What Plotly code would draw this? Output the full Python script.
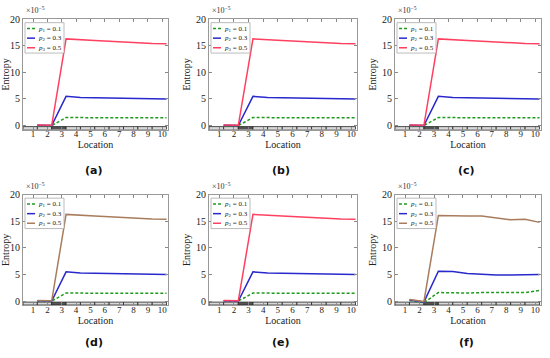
import plotly.graph_objects as go

# ---------------- data ----------------
location = [1.3, 2.3, 3.3, 4.3, 5.3, 6.3, 7.3, 8.3, 9.3, 10.3]
x_ticks = [1, 2, 3, 4, 5, 6, 7, 8, 9, 10]
y_ticks = [0, 5, 10, 15, 20]
series_names = ["<i>p</i><sub>1</sub> = 0.1", "<i>p</i><sub>2</sub> = 0.3", "<i>p</i><sub>3</sub> = 0.5"]
panel_labels = ["<b>(a)</b>", "<b>(b)</b>", "<b>(c)</b>", "<b>(d)</b>", "<b>(e)</b>", "<b>(f)</b>"]

p1_a = [0.0, 0.0, 1.5, 1.5, 1.5, 1.5, 1.5, 1.5, 1.45, 1.45]
p2_a = [0.05, 0.0, 5.5, 5.3, 5.25, 5.2, 5.15, 5.1, 5.05, 5.0]
p3_a = [0.1, 0.05, 16.3, 16.1, 16.0, 15.85, 15.7, 15.55, 15.45, 15.4]

p1_b = [0.0, 0.0, 1.5, 1.5, 1.5, 1.5, 1.5, 1.5, 1.45, 1.45]
p2_b = [0.05, 0.0, 5.5, 5.3, 5.25, 5.2, 5.15, 5.1, 5.05, 5.0]
p3_b = [0.1, 0.05, 16.3, 16.1, 16.0, 15.85, 15.7, 15.55, 15.45, 15.4]

p1_c = [0.0, 0.0, 1.5, 1.5, 1.5, 1.5, 1.5, 1.5, 1.45, 1.45]
p2_c = [0.05, 0.0, 5.5, 5.3, 5.25, 5.2, 5.15, 5.1, 5.05, 5.0]
p3_c = [0.1, 0.05, 16.3, 16.1, 16.0, 15.85, 15.7, 15.55, 15.45, 15.4]

p1_d = [0.0, 0.0, 1.5, 1.5, 1.5, 1.5, 1.5, 1.5, 1.45, 1.45]
p2_d = [0.05, 0.0, 5.5, 5.3, 5.25, 5.2, 5.15, 5.1, 5.05, 5.0]
p3_d = [0.1, 0.05, 16.3, 16.1, 16.0, 15.85, 15.7, 15.55, 15.45, 15.4]

p1_e = [0.0, 0.0, 1.5, 1.5, 1.5, 1.5, 1.5, 1.5, 1.45, 1.45]
p2_e = [0.05, 0.0, 5.5, 5.3, 5.25, 5.2, 5.15, 5.1, 5.05, 5.0]
p3_e = [0.1, 0.05, 16.3, 16.1, 16.0, 15.85, 15.7, 15.55, 15.45, 15.4]

p1_f = [0.1, -0.3, 1.6, 1.5, 1.5, 1.6, 1.6, 1.6, 1.6, 2.0]
p2_f = [0.2, -0.2, 5.6, 5.55, 5.2, 5.0, 4.9, 4.9, 5.0, 5.0]
p3_f = [0.3, -0.1, 16.1, 16.0, 16.0, 16.0, 15.6, 15.3, 15.4, 14.8]

# location strip: 1 = highlighted segment
strip_left = [0.3, 1.3, 2.3, 3.3, 4.3, 5.3, 6.3, 7.3, 8.3, 9.3]
strip_state = [0, 0, 1, 0, 0, 0, 0, 0, 0, 0]

panels = [
    (p1_a, p2_a, p3_a, "#ff4060"),
    (p1_b, p2_b, p3_b, "#ff4060"),
    (p1_c, p2_c, p3_c, "#ff4060"),
    (p1_d, p2_d, p3_d, "#a87c5c"),
    (p1_e, p2_e, p3_e, "#ff4060"),
    (p1_f, p2_f, p3_f, "#a87c5c"),
]

# ---------------- layout ----------------
W, H = 550, 358
col_px = [(23, 168), (209, 357), (395, 541)]
row_px = [(13.5, 126), (192.5, 305)]
cap_y_px = [168, 343]

FONT = "Liberation Serif, Times New Roman, DejaVu Serif, serif"
GREEN = "#1f9a1f"
BLUE = "#2828cc"

fig = go.Figure()
shapes = []
annotations = []

for i, (p1, p2, p3, c3) in enumerate(panels):
    r, c = divmod(i, 3)
    n = i + 1
    xa = "x" if n == 1 else f"x{n}"
    ya = "y" if n == 1 else f"y{n}"
    xl = "xaxis" if n == 1 else f"xaxis{n}"
    yl = "yaxis" if n == 1 else f"yaxis{n}"
    x0p, x1p = col_px[c]
    y0p, y1p = row_px[r]

    for ys, col, dash in [(p1, GREEN, "3px,2px"), (p2, BLUE, "solid"), (p3, c3, "solid")]:
        fig.add_trace(go.Scatter(x=location, y=ys, mode="lines", xaxis=xa, yaxis=ya,
                                 line=dict(color=col, width=1.5, dash=dash),
                                 showlegend=False, hoverinfo="skip"))

    fig.layout[xl] = dict(domain=[x0p / W, x1p / W], anchor=ya, range=[0.3, 10.4],
                          tickvals=x_ticks, ticks="inside", ticklen=3, tickcolor="#888",
                          showline=True, linecolor="#999", linewidth=1, mirror="ticks",
                          showgrid=False, zeroline=False, ticklabelstandoff=-4,
                          tickfont=dict(family=FONT, size=9, color="#222"),
                          title=dict(text="Location", font=dict(family=FONT, size=10, color="#222"), standoff=0))
    fig.layout[yl] = dict(domain=[1 - y1p / H, 1 - y0p / H], anchor=xa, range=[-0.75, 20],
                          tickvals=y_ticks, ticks="inside", ticklen=3, tickcolor="#888",
                          showline=True, linecolor="#999", linewidth=1, mirror="ticks",
                          showgrid=False, zeroline=False,
                          tickfont=dict(family=FONT, size=10, color="#222"),
                          title=dict(text="Entropy", font=dict(family=FONT, size=10, color="#222"), standoff=3))

    # location strip
    for left, st in zip(strip_left, strip_state):
        shapes.append(dict(type="rect", xref=xa, yref=ya, x0=left, x1=left + 1, y0=-0.75, y1=-0.2,
                           fillcolor="#555" if st else "#d8d8d8", line=dict(color="#222", width=0.8),
                           layer="below"))

    # exponent label
    annotations.append(dict(text="×10<sup>−5</sup>", xref="paper", yref="paper",
                            x=(x0p + 1) / W, y=1 - (y0p - 2) / H, xanchor="left", yanchor="bottom",
                            showarrow=False, font=dict(family=FONT, size=8, color="#333")))

    # compact legend box
    lx0, ly0 = x0p + 2, y0p + 3.5
    lw, lh = 39, 31
    shapes.append(dict(type="rect", xref="paper", yref="paper",
                       x0=lx0 / W, x1=(lx0 + lw) / W, y0=1 - (ly0 + lh) / H, y1=1 - ly0 / H,
                       fillcolor="white", line=dict(color="#aaa", width=0.8), layer="above"))
    for k, (name, col, dash) in enumerate([(series_names[0], GREEN, "3px,2px"),
                                           (series_names[1], BLUE, "solid"),
                                           (series_names[2], c3, "solid")]):
        yy = ly0 + 6 + k * 9.8
        shapes.append(dict(type="line", xref="paper", yref="paper",
                           x0=(lx0 + 2) / W, x1=(lx0 + 10) / W, y0=1 - yy / H, y1=1 - yy / H,
                           line=dict(color=col, width=1.5, dash=dash), layer="above"))
        annotations.append(dict(text=name, xref="paper", yref="paper", x=(lx0 + 11) / W, y=1 - yy / H,
                                xanchor="left", yanchor="middle", showarrow=False,
                                font=dict(family=FONT, size=7, color="#222")))

    # panel caption
    annotations.append(dict(text=panel_labels[i], xref="paper", yref="paper",
                            x=((x0p + x1p) / 2 - 2) / W, y=1 - cap_y_px[r] / H,
                            xanchor="center", yanchor="middle", showarrow=False,
                            font=dict(family="DejaVu Sans", size=11, color="#111")))

fig.update_layout(width=W, height=H, margin=dict(l=0, r=0, t=0, b=0),
                  paper_bgcolor="white", plot_bgcolor="white",
                  shapes=shapes, annotations=annotations, showlegend=False)

fig.write_html("out.html", config={"displayModeBar": False},
               post_script="document.body.style.margin='0px';")
